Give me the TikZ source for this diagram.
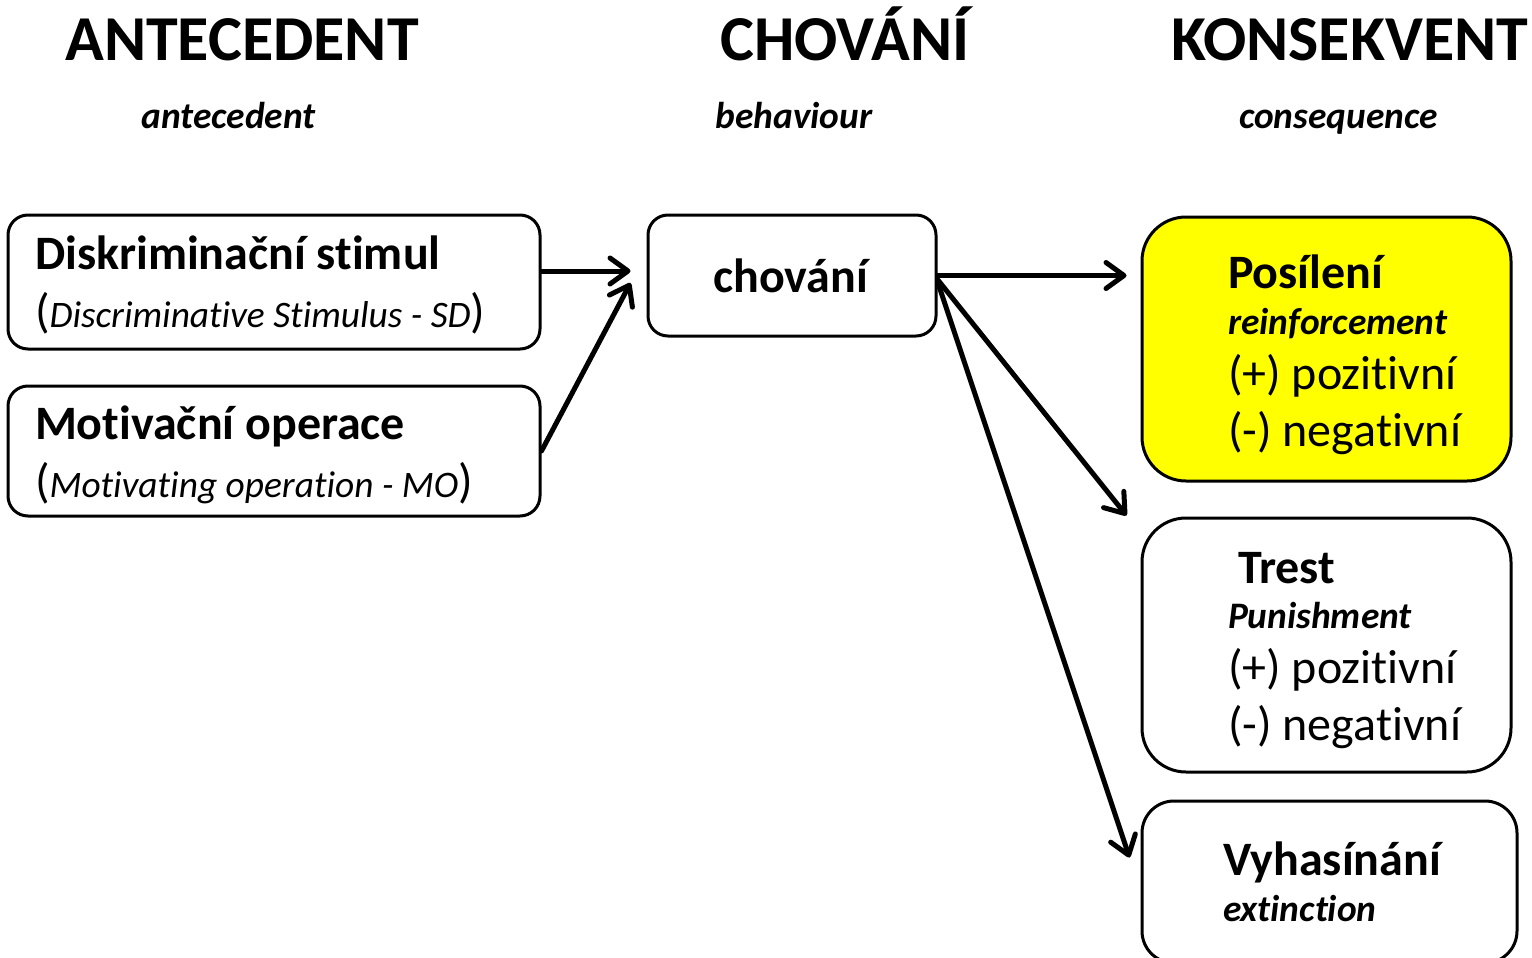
\documentclass[tikz,border=0pt]{standalone}
\usepackage{fontspec}
\setmainfont{Carlito}[Ligatures=NoCommon]
\usetikzlibrary{positioning}
\usetikzlibrary{arrows.meta}

\definecolor{posyellow}{RGB}{255,255,0}
\newcommand{\subfont}{\fontsize{18.7}{22}\selectfont}

\begin{document}
\begin{tikzpicture}[
  x=0.5pt, y=-0.5pt,
  every node/.style={font=\fontsize{24}{28.5}\selectfont},
  box/.style={
    draw, line width=1.5pt, rounded corners=10pt,
    align=flush left, inner ysep=0pt
  },
  bigbox/.style={box, rounded corners=22pt},
  title/.style={font=\fontsize{32}{38}\selectfont\bfseries, anchor=base},
  subtitle/.style={font=\subfont\bfseries\itshape, anchor=base},
  arrow/.style={-{Straight Barb[length=9pt,width=13pt,round]}, line width=2.5pt, line cap=round, line join=round}
]
\useasboundingbox (0,0) rectangle (1532,958);

% Headings
\node[title] (ant-t) at (242,61) {ANTECEDENT};
\node[title] (chov-t) at (845,61) {CHOVÁNÍ};
\node[title] (kons-t) at (1349.5,61) {KONSEKVENT};
\node[subtitle] (ant-s) at (228.5,128) {antecedent};
\node[subtitle] (chov-s) at (794,128) {behaviour};
\node[subtitle] (kons-s) at (1338.5,128) {consequence};

% Antecedents
\node[box, minimum width=266pt, minimum height=67pt, text width=239pt, inner xsep=13.5pt] (sd) at (274,282)
  {\mbox{\rule{0pt}{20pt}\textbf{Diskriminační stimul}}\\[0.5pt]\mbox{({\subfont\itshape Discriminative Stimulus - SD\/})}};
\node[box, minimum width=266pt, minimum height=65pt, text width=239pt, inner xsep=13.5pt, below=17pt of sd] (mo)
  {\mbox{\rule{0pt}{21pt}\textbf{Motivační operace}}\\[0.5pt]\mbox{({\subfont\itshape Motivating operation - MO\/})}};

% Behaviour
\node[box, align=center, minimum width=144pt, minimum height=60.5pt] (chov) at (792,275.5) {\textbf{chování}};

% Consequences
\node[bigbox, fill=posyellow, minimum width=184.5pt, minimum height=132pt, text width=98.5pt, inner xsep=43pt] (pos) at (1326.5,349)
  {\mbox{\rule{0pt}{23pt}\textbf{Posílení}}\\[-5.5pt]\mbox{\subfont\bfseries\itshape reinforcement}\\[-1pt]\mbox{(+) pozitivní}\\\mbox{(-) negativní}};
\node[bigbox, minimum width=184.5pt, minimum height=127pt, text width=98.5pt, inner xsep=43pt, below=17pt of pos] (trest)
  {\mbox{\rule{0pt}{21.5pt}\hspace*{5pt}\textbf{Trest}}\\[-6pt]\mbox{\subfont\bfseries\itshape Punishment}\\[-1pt]\mbox{(+) pozitivní}\\\mbox{(-) negativní}};
\node[box, rounded corners=16pt, minimum width=187.5pt, minimum height=81pt, text width=106.5pt, inner xsep=40.5pt, below=13pt of trest, xshift=1.5pt] (vyh)
  {\mbox{\textbf{Vyhasínání}}\\[-5.5pt]\mbox{\subfont\bfseries\itshape extinction}};

% Arrows
\coordinate (chov-in) at ([yshift=2.25pt]chov.west);
\draw[arrow, shorten >=8pt] (sd.east |- chov-in) -- (chov-in);
\draw[arrow] (mo.east) -- ([xshift=-8pt,yshift=-3.75pt]chov.west);
\draw[arrow, shorten >=7pt] (chov.east) -- (chov.east -| pos.west);
\draw[arrow] ([yshift=-2pt]chov.east) -- ([xshift=-7pt,yshift=0.5pt]trest.north west);
\draw[arrow] ([yshift=-3pt]chov.east) -- ([xshift=-5.5pt,yshift=-29pt]vyh.north west);
\end{tikzpicture}
\end{document}
